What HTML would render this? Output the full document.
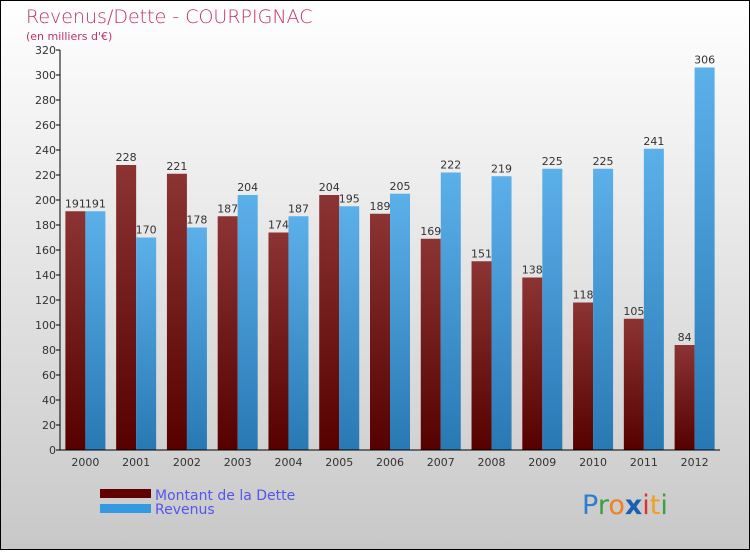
<!DOCTYPE html>
<html><head><meta charset="utf-8"><style>
body{margin:0;width:750px;height:550px;overflow:hidden;font-family:"DejaVu Sans","Liberation Sans",sans-serif;}
</style></head><body>
<svg width="750" height="550" xmlns="http://www.w3.org/2000/svg">
<defs>
<linearGradient id="bg" x1="0" y1="0" x2="0" y2="1"><stop offset="0" stop-color="#ffffff"/><stop offset="1" stop-color="#c8c8c8"/></linearGradient>
<linearGradient id="gd" x1="0" y1="0" x2="0" y2="1"><stop offset="0" stop-color="#8c3434"/><stop offset="1" stop-color="#560000"/></linearGradient>
<linearGradient id="gr" x1="0" y1="0" x2="0" y2="1"><stop offset="0" stop-color="#5cb0ea"/><stop offset="1" stop-color="#2878b4"/></linearGradient>
</defs>
<rect x="0.5" y="0.5" width="749" height="549" fill="url(#bg)" stroke="#000"/>
<text x="26" y="23" font-size="19" fill="#c0306a" font-weight="300">Revenus/Dette - COURPIGNAC</text>
<text x="26" y="40" font-size="11" fill="#c0306a">(en milliers d'€)</text>
<g id="plot"></g>
<g>
<rect x="100" y="489" width="51" height="9" fill="#600000"/>
<text x="155" y="500" font-size="14" fill="#5555ee">Montant de la Dette</text>
<rect x="100" y="504" width="51" height="9" fill="#3399e0"/>
<text x="155" y="514" font-size="14" fill="#5555ee">Revenus</text>
</g>
<g font-size="27" font-family="'DejaVu Sans',sans-serif">
<text x="582" y="514"><tspan fill="#2a7fd0">P</tspan><tspan fill="#3aa040">r</tspan><tspan fill="#f08020">o</tspan><tspan fill="#1a60b0" font-weight="bold">x</tspan><tspan fill="#e03030">i</tspan><tspan fill="#f0a020">t</tspan><tspan fill="#3aa040">i</tspan></text>
</g>
</svg>
<script>
const categories=["2000","2001","2002","2003","2004","2005","2006","2007","2008","2009","2010","2011","2012"];
const dette=[191,228,221,187,174,204,189,169,151,138,118,105,84];
const revenus=[191,170,178,204,187,195,205,222,219,225,225,241,306];
const yTicks=[0,20,40,60,80,100,120,140,160,180,200,220,240,260,280,300,320];
const NS="http://www.w3.org/2000/svg";
const g=document.getElementById('plot');
const X0=60,X1=720,Y0=450,Y1=50,YMAX=320;
const y=v=>Y0-(v/YMAX)*(Y0-Y1);
const step=(X1-X0)/categories.length;
const cx=i=>X0+step*(i+0.5);
function mk(t,a,txt){const e=document.createElementNS(NS,t);for(const k in a)e.setAttribute(k,a[k]);if(txt!==undefined)e.textContent=txt;g.appendChild(e);return e;}
yTicks.forEach(t=>{
 const l=mk('line',{x1:X0-4,x2:X0,y1:y(t),y2:y(t),stroke:'#000'});
 
 
 const tx=mk('text',{x:X0-4,y:y(t)+4,'font-size':11,'text-anchor':'end',fill:'#333'},t);
 
 
});
categories.forEach((c,i)=>{
 const b1=mk('rect',{x:cx(i)-20,y:y(dette[i]),width:20,height:Y0-y(dette[i]),fill:'url(#gd)'});
 
 
 const b2=mk('rect',{x:cx(i),y:y(revenus[i]),width:20,height:Y0-y(revenus[i]),fill:'url(#gr)'});
 
 
 const l1=mk('text',{x:cx(i)-10,y:y(dette[i])-4,'font-size':11,'text-anchor':'middle',fill:'#333'},dette[i]);
 
 
 const l2=mk('text',{x:cx(i)+10,y:y(revenus[i])-4,'font-size':11,'text-anchor':'middle',fill:'#333'},revenus[i]);
 
 
 const xl=mk('text',{x:cx(i),y:Y0+16,'font-size':11,'text-anchor':'middle',fill:'#333'},c);
 
 
});
const ya=mk('line',{x1:X0,x2:X0,y1:Y1,y2:Y0,stroke:'#000'});


const xa=mk('line',{x1:X0,x2:X1,y1:Y0,y2:Y0,stroke:'#000'});


</script>
</body></html>
